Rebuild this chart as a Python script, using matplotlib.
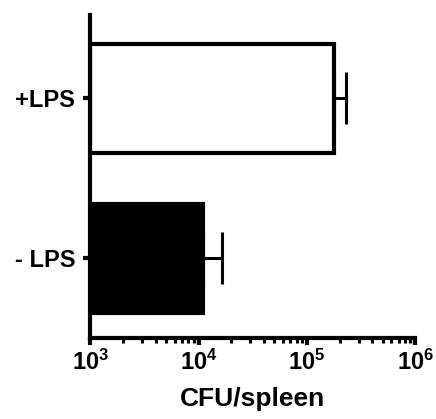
import matplotlib
matplotlib.use("Agg")
import matplotlib.pyplot as plt

categories = ["- LPS", "+LPS"]
values = [1.1e4, 1.78e5]
errors_upper = [0.55e4, 0.5e5]
xticks = [1e3, 1e4, 1e5, 1e6]
xtick_labels = ["3", "4", "5", "6"]
base = 1e3

plt.rcParams['font.family'] = ['Liberation Sans', 'DejaVu Sans']
plt.rcParams['font.weight'] = 'bold'
plt.rcParams['mathtext.fontset'] = 'custom'
plt.rcParams['mathtext.rm'] = 'Liberation Sans:bold'
plt.rcParams['mathtext.it'] = 'Liberation Sans:bold'
plt.rcParams['mathtext.bf'] = 'Liberation Sans:bold'

fig = plt.figure(figsize=(4.36, 4.19), dpi=100)
ax = fig.add_axes([0.2075, 0.193, 0.745, 0.771])
ax.set_xscale('log')

ypos = list(range(len(categories)))
colors = ['black', 'white']
widths = [v - base for v in values]
ax.barh(ypos, widths, left=base, height=0.68, color=colors, edgecolor='black',
        linewidth=3.0, zorder=2)
ax.errorbar(values, ypos, xerr=[[0] * len(values), errors_upper], fmt='none',
            ecolor='black', elinewidth=2.2, capsize=19, capthick=2.2, zorder=1)

ax.set_xlim(xticks[0], xticks[-1])
ax.set_ylim(-0.5, 1.52)
ax.set_xticks(xticks)
ax.set_xticklabels([r'$\mathbf{10^{%s}}$' % t for t in xtick_labels], fontsize=17)
ax.set_yticks(ypos)
ax.set_yticklabels(categories, fontsize=17, fontweight='bold')
ax.set_xlabel('CFU/spleen', fontsize=19, fontweight='bold', labelpad=9)

for s in ['top', 'right']:
    ax.spines[s].set_visible(False)
for s in ['left', 'bottom']:
    ax.spines[s].set_linewidth(3.0)

ax.tick_params(axis='x', which='major', length=5, width=3, direction='out', pad=3)
ax.tick_params(axis='x', which='minor', length=3.5, width=2.2, direction='out')
ax.tick_params(axis='y', which='major', length=5, width=3, direction='out', pad=6)
ax.tick_params(axis='x', which='minor', labelbottom=False)

fig.savefig('out.png', dpi=100, facecolor='white')
